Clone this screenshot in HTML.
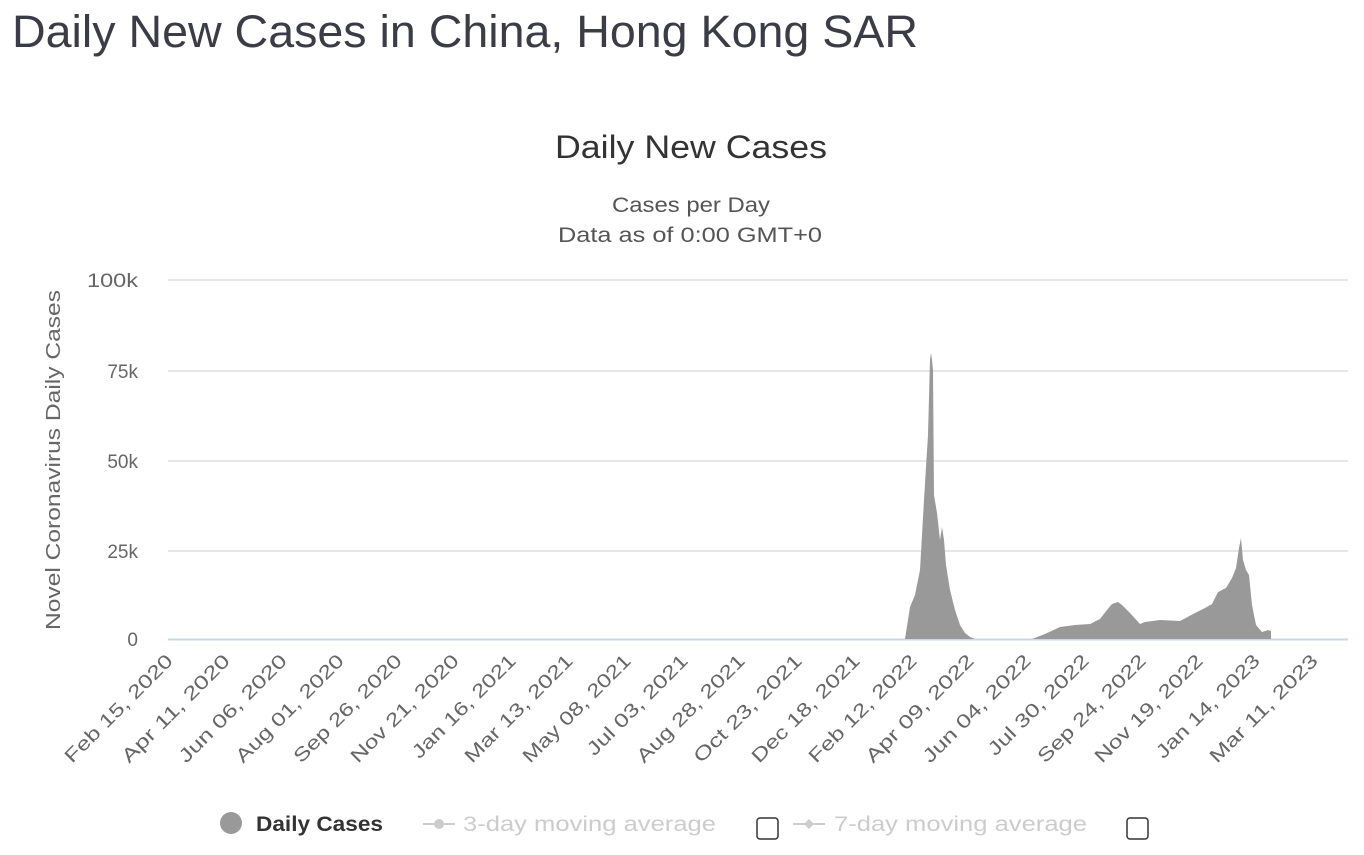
<!DOCTYPE html>
<html><head><meta charset="utf-8"><style>
body{margin:0;background:#fff;width:1364px;height:850px;overflow:hidden;font-family:"Liberation Sans","DejaVu Sans",sans-serif;}
</style></head><body>
<svg width="1364" height="850" xmlns="http://www.w3.org/2000/svg" font-family="Liberation Sans, DejaVu Sans, sans-serif">
<text x="12" y="47" font-size="45" fill="#3c3c46" textLength="906" lengthAdjust="spacingAndGlyphs">Daily New Cases in China, Hong Kong SAR</text>
<text x="555" y="158" font-size="32" fill="#333" textLength="272" lengthAdjust="spacingAndGlyphs">Daily New Cases</text>
<text x="612" y="212" font-size="21" fill="#555" textLength="158" lengthAdjust="spacingAndGlyphs">Cases per Day</text>
<text x="558" y="242" font-size="21" fill="#555" textLength="264" lengthAdjust="spacingAndGlyphs">Data as of 0:00 GMT+0</text>
<g stroke="#e6e6e6" stroke-width="2">
<line x1="168" y1="280" x2="1348" y2="280"/><line x1="168" y1="371" x2="1348" y2="371"/>
<line x1="168" y1="461" x2="1348" y2="461"/><line x1="168" y1="551" x2="1348" y2="551"/>
</g>
<line x1="168" y1="639.5" x2="1348" y2="639.5" stroke="#ccd6eb" stroke-width="2"/>
<g font-size="19" fill="#666" text-anchor="end">
<text x="138" y="287" textLength="51" lengthAdjust="spacingAndGlyphs">100k</text><text x="138" y="378">75k</text><text x="138" y="468">50k</text><text x="138" y="558">25k</text><text x="138" y="646">0</text>
</g>
<text transform="translate(60,460) rotate(-90)" font-size="20" fill="#666" text-anchor="middle" textLength="340" lengthAdjust="spacingAndGlyphs">Novel Coronavirus Daily Cases</text>
<polygon fill="#999" points="905,639 910,607 915,595 920,570 924,500 926,467 928,435 930,360 931,353 932,360 933,370 934,495 937,513 940,540 942,527 944,540 946,565 950,590 955,610 960,625 965,633 970,637 975,639"/>
<polygon fill="#999" points="1032,639 1045,634 1060,627 1075,625 1090,624 1100,619 1107,610 1112,604 1118,602 1122,605 1130,613 1140,624 1145,622 1160,620 1180,621 1195,613 1205,608 1212,604 1218,592 1226,588 1232,578 1236,568 1239,548 1241,538 1243,560 1246,570 1249,575 1252,605 1256,625 1262,632 1268,630 1271,631 1271,639"/>
<g font-size="19" fill="#666" text-anchor="end">
<text transform="translate(174,662) rotate(-45)" textLength="144" lengthAdjust="spacingAndGlyphs">Feb 15, 2020</text>
<text transform="translate(231,662) rotate(-45)" textLength="144" lengthAdjust="spacingAndGlyphs">Apr 11, 2020</text>
<text transform="translate(288,662) rotate(-45)" textLength="144" lengthAdjust="spacingAndGlyphs">Jun 06, 2020</text>
<text transform="translate(345,662) rotate(-45)" textLength="144" lengthAdjust="spacingAndGlyphs">Aug 01, 2020</text>
<text transform="translate(403,662) rotate(-45)" textLength="144" lengthAdjust="spacingAndGlyphs">Sep 26, 2020</text>
<text transform="translate(460,662) rotate(-45)" textLength="144" lengthAdjust="spacingAndGlyphs">Nov 21, 2020</text>
<text transform="translate(517,662) rotate(-45)" textLength="138" lengthAdjust="spacingAndGlyphs">Jan 16, 2021</text>
<text transform="translate(574,662) rotate(-45)" textLength="144" lengthAdjust="spacingAndGlyphs">Mar 13, 2021</text>
<text transform="translate(632,662) rotate(-45)" textLength="144" lengthAdjust="spacingAndGlyphs">May 08, 2021</text>
<text transform="translate(689,662) rotate(-45)" textLength="134" lengthAdjust="spacingAndGlyphs">Jul 03, 2021</text>
<text transform="translate(746,662) rotate(-45)" textLength="144" lengthAdjust="spacingAndGlyphs">Aug 28, 2021</text>
<text transform="translate(803,662) rotate(-45)" textLength="144" lengthAdjust="spacingAndGlyphs">Oct 23, 2021</text>
<text transform="translate(861,662) rotate(-45)" textLength="144" lengthAdjust="spacingAndGlyphs">Dec 18, 2021</text>
<text transform="translate(918,662) rotate(-45)" textLength="144" lengthAdjust="spacingAndGlyphs">Feb 12, 2022</text>
<text transform="translate(975,662) rotate(-45)" textLength="144" lengthAdjust="spacingAndGlyphs">Apr 09, 2022</text>
<text transform="translate(1032,662) rotate(-45)" textLength="144" lengthAdjust="spacingAndGlyphs">Jun 04, 2022</text>
<text transform="translate(1090,662) rotate(-45)" textLength="134" lengthAdjust="spacingAndGlyphs">Jul 30, 2022</text>
<text transform="translate(1147,662) rotate(-45)" textLength="144" lengthAdjust="spacingAndGlyphs">Sep 24, 2022</text>
<text transform="translate(1204,662) rotate(-45)" textLength="144" lengthAdjust="spacingAndGlyphs">Nov 19, 2022</text>
<text transform="translate(1261,662) rotate(-45)" textLength="138" lengthAdjust="spacingAndGlyphs">Jan 14, 2023</text>
<text transform="translate(1319,662) rotate(-45)" textLength="144" lengthAdjust="spacingAndGlyphs">Mar 11, 2023</text>
</g>
<circle cx="231" cy="823" r="11" fill="#999"/>
<text x="256" y="831" font-size="21" font-weight="bold" fill="#333" textLength="127" lengthAdjust="spacingAndGlyphs">Daily Cases</text>
<line x1="423" y1="824" x2="455" y2="824" stroke="#ccc" stroke-width="2"/><circle cx="439" cy="824" r="5" fill="#ccc"/>
<text x="463" y="831" font-size="21" fill="#ccc" textLength="253" lengthAdjust="spacingAndGlyphs">3-day moving average</text>
<rect x="757" y="818" width="21" height="21" rx="3" fill="#fff" stroke="#333" stroke-width="1.5"/>
<line x1="793" y1="824" x2="825" y2="824" stroke="#ccc" stroke-width="2"/><path d="M809 819 L814 824 L809 829 L804 824Z" fill="#ccc"/>
<text x="834" y="831" font-size="21" fill="#ccc" textLength="253" lengthAdjust="spacingAndGlyphs">7-day moving average</text>
<rect x="1127" y="818" width="21" height="21" rx="3" fill="#fff" stroke="#333" stroke-width="1.5"/>
</svg>
</body></html>
